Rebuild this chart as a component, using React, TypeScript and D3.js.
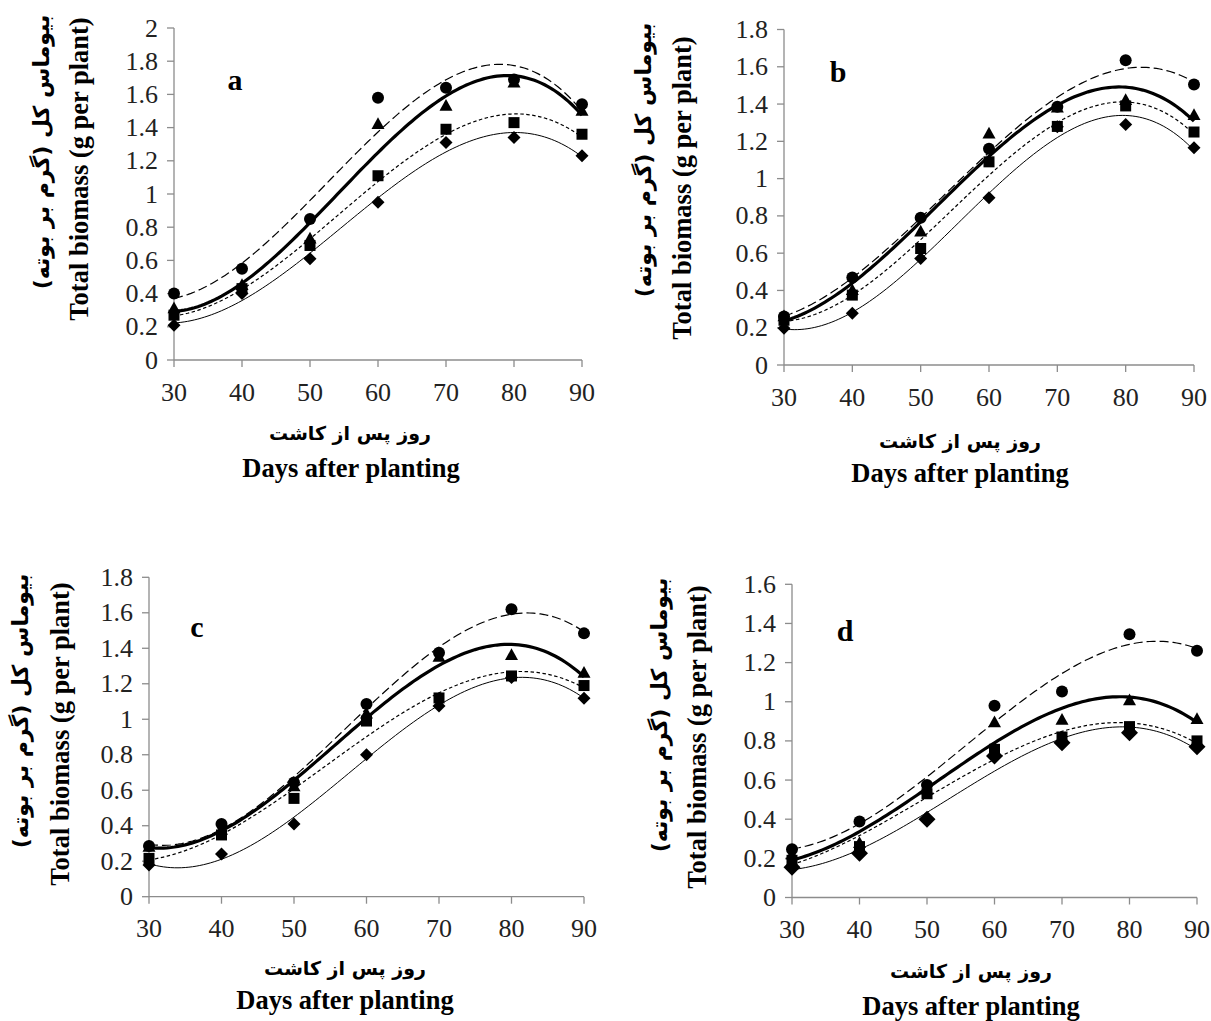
import React from "react";
import * as d3 from "d3";

const days = [30, 40, 50, 60, 70, 80, 90];

const aCircle = [0.40, 0.55, 0.85, 1.58, 1.64, 1.69, 1.54];
const aTriangle = [0.31, 0.45, 0.73, 1.42, 1.53, 1.67, 1.50];
const aSquare = [0.27, 0.43, 0.69, 1.11, 1.39, 1.43, 1.36];
const aDiamond = [0.21, 0.40, 0.61, 0.95, 1.31, 1.34, 1.23];

const bCircle = [0.26, 0.47, 0.79, 1.16, 1.385, 1.635, 1.505];
const bTriangle = [0.26, 0.40, 0.715, 1.24, 1.38, 1.42, 1.34];
const bSquare = [0.24, 0.375, 0.625, 1.09, 1.28, 1.39, 1.25];
const bDiamond = [0.197, 0.277, 0.572, 0.897, 1.278, 1.29, 1.166];

const cCircle = [0.286, 0.41, 0.643, 1.086, 1.375, 1.62, 1.484];
const cTriangle = [0.28, 0.375, 0.62, 1.03, 1.35, 1.36, 1.26];
const cSquare = [0.216, 0.348, 0.554, 0.99, 1.12, 1.244, 1.19];
const cDiamond = [0.178, 0.24, 0.41, 0.80, 1.075, 1.235, 1.118];

const dCircle = [0.247, 0.388, 0.575, 0.98, 1.052, 1.345, 1.26];
const dTriangle = [0.218, 0.277, 0.55, 0.894, 0.907, 1.006, 0.91];
const dSquare = [0.19, 0.26, 0.53, 0.757, 0.82, 0.873, 0.80];
const dDiamond = [0.155, 0.226, 0.40, 0.723, 0.79, 0.842, 0.77];

const yTicksA = [0, 0.2, 0.4, 0.6, 0.8, 1, 1.2, 1.4, 1.6, 1.8, 2];
const yTicksBC = [0, 0.2, 0.4, 0.6, 0.8, 1, 1.2, 1.4, 1.6, 1.8];
const yTicksD = [0, 0.2, 0.4, 0.6, 0.8, 1, 1.2, 1.4, 1.6];

const xTitleFa = "روز پس از کاشت";
const xTitleEn = "Days after planting";
const yTitleFa = "بیوماس کل (گرم بر بوته)";
const yTitleEn = "Total biomass (g per plant)";

type Layout = {
  label: string;
  x0: number; x1: number; yb: number; yt: number; ymax: number;
  ticks: number[];
  labelPos: [number, number];
  yEn: [number, number]; yFa: [number, number];
  xFa: [number, number]; xEn: [number, number];
  diamondSize: number;
};

const panels: { layout: Layout; series: number[][] }[] = [
  {
    layout: { label: "a", x0: 174, x1: 582, yb: 360, yt: 28, ymax: 2, ticks: yTicksA,
      labelPos: [235, 90], yEn: [79, 169], yFa: [41, 152], xFa: [350, 433], xEn: [351, 468], diamondSize: 13 },
    series: [aCircle, aTriangle, aSquare, aDiamond],
  },
  {
    layout: { label: "b", x0: 784, x1: 1194, yb: 365, yt: 29.5, ymax: 1.8, ticks: yTicksBC,
      labelPos: [838, 82], yEn: [682, 188], yFa: [643, 160], xFa: [960, 441], xEn: [960, 473], diamondSize: 13 },
    series: [bCircle, bTriangle, bSquare, bDiamond],
  },
  {
    layout: { label: "c", x0: 149, x1: 584, yb: 896.7, yt: 577.3, ymax: 1.8, ticks: yTicksBC,
      labelPos: [197, 637], yEn: [60, 734], yFa: [20, 711], xFa: [345, 968], xEn: [345, 1000], diamondSize: 13 },
    series: [cCircle, cTriangle, cSquare, cDiamond],
  },
  {
    layout: { label: "d", x0: 792, x1: 1197, yb: 897.5, yt: 584.3, ymax: 1.6, ticks: yTicksD,
      labelPos: [845, 641], yEn: [697, 737], yFa: [659, 715], xFa: [971, 971], xEn: [971, 1006], diamondSize: 17 },
    series: [dCircle, dTriangle, dSquare, dDiamond],
  },
];

// Excel-style polynomial (order 3) trendline via least squares
function polyfit(xs: number[], ys: number[], deg: number) {
  const n = deg + 1;
  const t = xs.map((x) => (x - 60) / 10);
  const A: number[][] = [];
  for (let i = 0; i < n; i++) {
    A.push([]);
    for (let j = 0; j < n; j++) A[i].push(d3.sum(t, (v) => Math.pow(v, i + j)));
    A[i].push(d3.sum(t, (v, k) => Math.pow(v, i) * ys[k]));
  }
  for (let c = 0; c < n; c++) {
    let p = c;
    for (let r = c + 1; r < n; r++) if (Math.abs(A[r][c]) > Math.abs(A[p][c])) p = r;
    [A[c], A[p]] = [A[p], A[c]];
    for (let r = 0; r < n; r++) {
      if (r === c) continue;
      const f = A[r][c] / A[c][c];
      for (let k = c; k <= n; k++) A[r][k] -= f * A[c][k];
    }
  }
  const coef = A.map((row, i) => row[n] / row[i]);
  return (x: number) => {
    const tv = (x - 60) / 10;
    return coef.reduce((s, c, i) => s + c * Math.pow(tv, i), 0);
  };
}

const lineStyles = [
  { width: 1.2, dash: "9,4" },
  { width: 3.2, dash: "" },
  { width: 1.2, dash: "3.5,2.5" },
  { width: 1, dash: "" },
];

const axisColor = "#8c8c8c";
const serif = "'Liberation Serif', 'Times New Roman', serif";
const faFont = "'DejaVu Sans', sans-serif";

function Marker({ kind, x, y, dsize }: { kind: number; x: number; y: number; dsize: number }) {
  if (kind === 0) return <circle cx={x} cy={y} r={6} fill="#000" />;
  if (kind === 1) {
    const s = 13;
    const h = s * 0.9;
    return <path d={`M${x},${y - h * 0.6}L${x + s / 2},${y + h * 0.4}L${x - s / 2},${y + h * 0.4}Z`} fill="#000" />;
  }
  if (kind === 2) return <rect x={x - 5.5} y={y - 5.5} width={11} height={11} fill="#000" />;
  const r = dsize / 2;
  return <path d={`M${x},${y - r}L${x + r},${y}L${x},${y + r}L${x - r},${y}Z`} fill="#000" />;
}

function Panel({ layout, series }: { layout: Layout; series: number[][] }) {
  const x = d3.scaleLinear().domain([30, 90]).range([layout.x0, layout.x1]);
  const y = d3.scaleLinear().domain([0, layout.ymax]).range([layout.yb, layout.yt]);
  const samples = d3.range(30, 90.01, 0.5);
  const fmt = (v: number) => String(+v.toFixed(1));
  const drawOrder = [3, 2, 1, 0];
  return (
    <g>
      <line x1={layout.x0} x2={layout.x0} y1={layout.yt} y2={layout.yb} stroke={axisColor} strokeWidth={1.3} />
      <line x1={layout.x0} x2={layout.x1} y1={layout.yb} y2={layout.yb} stroke={axisColor} strokeWidth={1.3} />
      {layout.ticks.map((t) => (
        <g key={"y" + t}>
          <line x1={layout.x0 - 7} x2={layout.x0} y1={y(t)} y2={y(t)} stroke={axisColor} strokeWidth={1.3} />
          <text x={layout.x0 - 16} y={y(t)} dy="0.33em" textAnchor="end" fontFamily={serif} fontSize={26} fill="#222">
            {fmt(t)}
          </text>
        </g>
      ))}
      {days.map((dv) => (
        <g key={"x" + dv}>
          <line x1={x(dv)} x2={x(dv)} y1={layout.yb} y2={layout.yb + 7} stroke={axisColor} strokeWidth={1.3} />
          <text x={x(dv)} y={layout.yb + 32} dy="0.33em" textAnchor="middle" fontFamily={serif} fontSize={26} fill="#222">
            {dv}
          </text>
        </g>
      ))}
      {series.map((s, i) => {
        const f = polyfit(days, s, 3);
        const pts = samples.map((sx) => [sx, f(sx)]);
        const gen = d3.line<number[]>().x((p) => x(p[0])).y((p) => y(p[1]));
        return (
          <path key={"l" + i} d={gen(pts) || ""} fill="none" stroke="#000"
            strokeWidth={lineStyles[i].width} strokeDasharray={lineStyles[i].dash || undefined} />
        );
      })}
      {drawOrder.map((i) =>
        series[i].map((v, k) => <Marker key={`m${i}-${k}`} kind={i} x={x(days[k])} y={y(v)} dsize={layout.diamondSize} />)
      )}
      <text x={layout.labelPos[0]} y={layout.labelPos[1]} textAnchor="middle" fontFamily={serif} fontWeight="bold" fontSize={30}>
        {layout.label}
      </text>
      <text x={layout.xFa[0]} y={layout.xFa[1]} dy="0.35em" textAnchor="middle" fontFamily={faFont} fontWeight="bold" fontSize={19} direction="rtl">
        {xTitleFa}
      </text>
      <text x={layout.xEn[0]} y={layout.xEn[1]} dy="0.33em" textAnchor="middle" fontFamily={serif} fontWeight="bold" fontSize={26.5}>
        {xTitleEn}
      </text>
      <text transform={`translate(${layout.yEn[0]},${layout.yEn[1]}) rotate(-90)`} dy="0.33em" textAnchor="middle"
        fontFamily={serif} fontWeight="bold" fontSize={26.5}>
        {yTitleEn}
      </text>
      <text transform={`translate(${layout.yFa[0]},${layout.yFa[1]}) rotate(-90)`} dy="0.35em" textAnchor="middle"
        fontFamily={faFont} fontWeight="bold" fontSize={22} direction="rtl">
        {yTitleFa}
      </text>
    </g>
  );
}

export default function App() {
  return (
    <svg width={1211} height={1021} style={{ position: "absolute", left: 0, top: 0, background: "#fff" }}>
      <rect width={1211} height={1021} fill="#fff" />
      {panels.map((p, i) => (
        <Panel key={i} layout={p.layout} series={p.series} />
      ))}
    </svg>
  );
}
